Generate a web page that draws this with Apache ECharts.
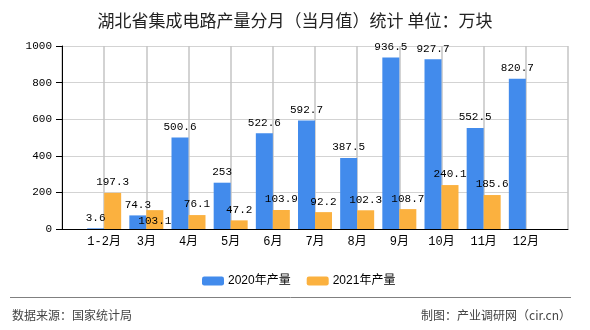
<!DOCTYPE html>
<html><head><meta charset="utf-8">
<script src="https://cdn.jsdelivr.net/npm/echarts@6/dist/echarts.min.js"></script>
<style>html,body{margin:0;padding:0;background:#fff}#c{width:590px;height:330px}</style>
</head><body><div id="c"></div>
<script>
var titleText = '湖北省集成电路产量分月（当月值）统计 单位：万块';
var categories = ['1-2月','3月','4月','5月','6月','7月','8月','9月','10月','11月','12月'];
var series2020Name = '2020年产量';
var series2021Name = '2021年产量';
var values2020 = [3.6, 74.3, 500.6, 253, 522.6, 592.7, 387.5, 936.5, 927.7, 552.5, 820.7];
var values2021 = [197.3, 103.1, 76.1, 47.2, 103.9, 92.2, 102.3, 108.7, 240.1, 185.6, null];
var yTicks = [0, 200, 400, 600, 800, 1000];
var sourceText = '数据来源：国家统计局';
var creditText = '制图：产业调研网（cir.cn）';

var monoFont = '"Liberation Mono","DejaVu Sans Mono","Noto Sans CJK SC",monospace';
var axisCats = [''].concat(categories, ['']);
function pad(arr){ return ['-'].concat(arr.map(function(v){return v==null?'-':v;}), ['-']); }
var d2020 = pad(values2020);
var d2021 = pad(values2021).map(function(v, i){
  if (i === 2) return {value: v, label: {offset: [0, 21]}};
  return v;
});
var lbl = {show: true, position: 'top', color: '#000', fontFamily: monoFont, fontSize: 11};

var chart = echarts.init(document.getElementById('c'), null, {renderer: 'canvas'});
chart.setOption({
  animation: false,
  title: {text: titleText, left: 'center', top: 7,
    textStyle: {fontSize: 17, fontWeight: 'normal', color: '#222', fontFamily: '"Noto Sans CJK SC",sans-serif'}},
  grid: {left: 62, right: 22, top: 46, bottom: 101},
  legend: {left: 197, top: 270, itemWidth: 22, itemHeight: 9, itemGap: 16,
    textStyle: {fontSize: 12, color: '#000', padding: [0,0,0,-1], fontFamily: '"Liberation Sans","Noto Sans CJK SC",sans-serif'},
    data: [series2020Name, series2021Name]},
  xAxis: {type: 'category', data: axisCats, boundaryGap: false,
    axisLine: {lineStyle: {color: '#000'}},
    axisTick: {show: false, interval: 0},
    axisLabel: {color: '#000', fontFamily: monoFont, fontSize: 12, margin: 7, interval: 0},
    splitLine: {show: true, interval: 0, lineStyle: {color: '#c4c4c4', width: 1.5}}},
  yAxis: {type: 'value', min: yTicks[0], max: yTicks[yTicks.length-1], interval: 200,
    axisLine: {show: true, lineStyle: {color: '#000'}},
    axisTick: {show: true, length: 6, lineStyle: {color: '#000'}},
    axisLabel: {color: '#000', fontFamily: monoFont, fontSize: 11, margin: 10, formatter: function(v){ return String(v); }},
    splitLine: {lineStyle: {color: '#d3d3d3'}}},
  series: [
    {name: series2020Name, type: 'bar', data: d2020, barWidth: 17, barGap: '0%',
      itemStyle: {color: '#428BEC'}, label: lbl},
    {name: series2021Name, type: 'bar', data: d2021, barWidth: 17, barGap: '0%',
      itemStyle: {color: '#FBB13F'}, label: lbl}
  ],
  graphic: [
    {type: 'line', shape: {x1: 10, y1: 297.5, x2: 571, y2: 297.5}, style: {stroke: '#808080', lineWidth: 1}},
    {type: 'text', left: 12, top: 309, style: {text: sourceText, fontSize: 12, fill: '#444', fontFamily: '"Noto Sans CJK SC",sans-serif'}},
    {type: 'text', right: 19, top: 309, style: {text: creditText, fontSize: 12, fill: '#444', fontFamily: '"Noto Sans CJK SC",sans-serif'}}
  ]
});
</script></body></html>
